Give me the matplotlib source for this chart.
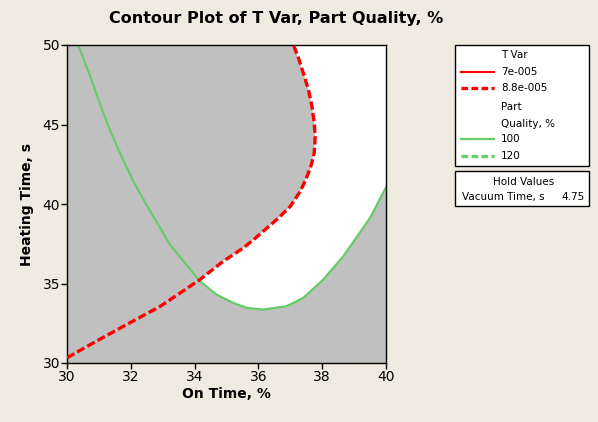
import numpy as np
import matplotlib
matplotlib.use("Agg")
import matplotlib.pyplot as plt
from matplotlib.lines import Line2D
from matplotlib.patches import Rectangle

# contour of T Var = 8.8e-005
red_x = [30.0, 30.83, 31.87, 32.92, 33.55, 34.17, 34.9, 35.53, 35.85, 36.27,
         36.63, 37.0, 37.31, 37.5, 37.65, 37.75, 37.78, 37.75, 37.68, 37.57,
         37.41, 37.26, 37.1]
red_y = [30.33, 31.27, 32.42, 33.56, 34.41, 35.25, 36.4, 37.24, 37.76, 38.49,
         39.12, 39.85, 40.79, 41.6, 42.4, 43.2, 44.24, 45.08, 46.13, 47.17,
         48.22, 49.16, 50.0]

# contour of Part Quality = 100
green_x = [30.35, 30.57, 30.77, 31.14, 31.43, 31.71, 32.08, 32.5, 32.86, 33.23,
           33.65, 34.17, 34.69, 35.21, 35.63, 36.15, 36.88, 37.41, 38.03, 38.66,
           39.5, 40.0]
green_y = [50.0, 48.85, 47.8, 45.7, 44.25, 43.0, 41.42, 39.92, 38.7, 37.44,
           36.4, 35.14, 34.3, 33.78, 33.47, 33.36, 33.57, 34.1, 35.24, 36.71,
           39.12, 41.05]

x_ticks = [30, 32, 34, 36, 38, 40]
y_ticks = [30, 35, 40, 45, 50]
hold_name, hold_value = "Vacuum Time, s", "4.75"

BG = "#efebe1"
GREY = "#c0c0c0"
RED = "#ff0000"
GREEN = "#66cc66"
W, H = 598, 422


def crossing(ax_, ay_, bx_, by_):
    # first crossing of two polylines -> (index in a, index in b, point)
    for i in range(len(ax_) - 1):
        p = np.array([ax_[i], ay_[i]])
        r = np.array([ax_[i + 1], ay_[i + 1]]) - p
        for j in range(len(bx_) - 1):
            q = np.array([bx_[j], by_[j]])
            s = np.array([bx_[j + 1], by_[j + 1]]) - q
            den = r[0] * s[1] - r[1] * s[0]
            if den == 0:
                continue
            t = ((q - p)[0] * s[1] - (q - p)[1] * s[0]) / den
            u = ((q - p)[0] * r[1] - (q - p)[1] * r[0]) / den
            if 0 <= t <= 1 and 0 <= u <= 1:
                return i, j, p + t * r
    return None


fig = plt.figure(figsize=(W / 100, H / 100), dpi=100, facecolor=BG)
ax = fig.add_axes([67 / W, 1 - 363 / H, (386 - 67) / W, (363 - 45) / H])
ax.set_facecolor(GREY)

# white feasible region: right of the red contour, above the green one
i, j, pt = crossing(red_x, red_y, green_x, green_y)
poly_x = [pt[0]] + red_x[i + 1:] + [40.0] + green_x[::-1][:len(green_x) - j - 1]
poly_y = [pt[1]] + red_y[i + 1:] + [50.0] + green_y[::-1][:len(green_y) - j - 1]
ax.fill(poly_x, poly_y, color="white", lw=0, zorder=1)

ax.plot(green_x, green_y, color=GREEN, lw=1.6, zorder=2)
ax.plot(red_x, red_y, color=RED, lw=2.4, dashes=(2.5, 1), zorder=3)

ax.set_xlim(30, 40)
ax.set_ylim(30, 50)
ax.set_xticks(x_ticks)
ax.set_yticks(y_ticks)
ax.tick_params(direction="out", length=4, width=1, labelsize=10, pad=1,
               colors="black")
for sp in ax.spines.values():
    sp.set_linewidth(1)
ax.set_xlabel("On Time, %", fontsize=10, fontweight="bold", labelpad=2)
ax.set_ylabel("Heating Time, s", fontsize=10, fontweight="bold", labelpad=6)

fig.text(276 / W, 1 - 19 / H, "Contour Plot of T Var, Part Quality, %",
         ha="center", va="center", fontsize=11.5, fontweight="bold")


def fp(x, y):
    return x / W, 1 - y / H


# legend boxes drawn in figure pixels
for (x0, y0, x1, y1) in [(455, 45, 589, 166), (455, 171, 589, 206)]:
    fig.patches.append(Rectangle(fp(x0, y1), (x1 - x0) / W, (y1 - y0) / H,
                                 transform=fig.transFigure, facecolor="white",
                                 edgecolor="black", lw=1))

leg_fs = 7.5
rows = [
    (55, None, "T Var"),
    (72, (RED, "-", 1.5), "7e-005"),
    (88, (RED, "--", 2.4), "8.8e-005"),
    (107, None, "Part"),
    (124, None, "Quality, %"),
    (139, (GREEN, "-", 1.6), "100"),
    (156, (GREEN, "--", 2.4), "120"),
]
for y, style, label in rows:
    if style is not None:
        c, ls, lw = style
        ln = Line2D([x / W for x in (461, 494)], [1 - y / H] * 2,
                    transform=fig.transFigure, color=c, lw=lw)
        if ls == "--":
            ln.set_dashes((2, 1))
        fig.lines.append(ln)
    fig.text(*fp(501, y), label, ha="left", va="center", fontsize=leg_fs)

fig.text(*fp(524, 182), "Hold Values", ha="center", va="center", fontsize=leg_fs)
fig.text(*fp(462, 197), hold_name, ha="left", va="center", fontsize=leg_fs)
fig.text(*fp(585, 197), hold_value, ha="right", va="center", fontsize=leg_fs)

fig.savefig("out.png", dpi=100, facecolor=BG)
